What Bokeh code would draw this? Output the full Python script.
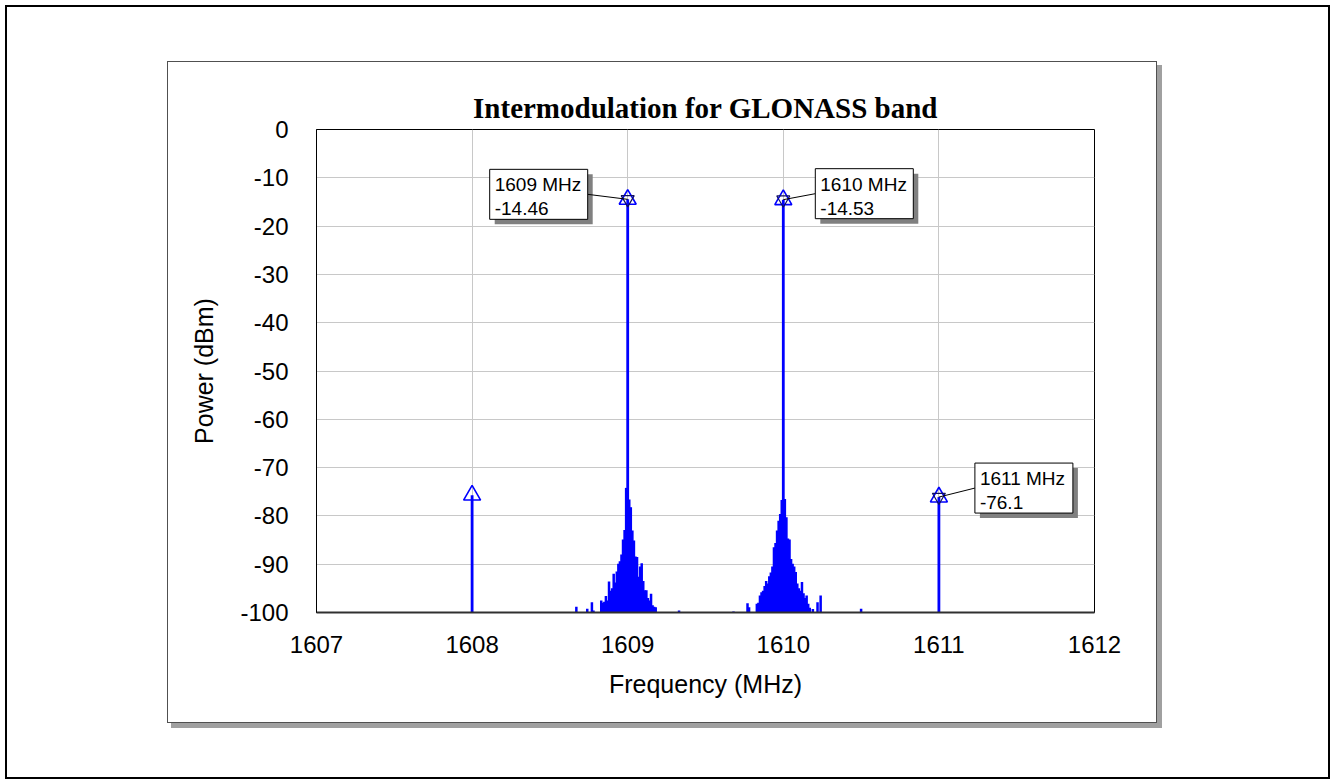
from bokeh.plotting import figure
from bokeh.models import Range1d, FixedTicker, PrintfTickFormatter
from bokeh.core.properties import value
from bokeh.embed import file_html
from bokeh.resources import INLINE

# ---------------- data ----------------
peak_freq = [1608.0, 1609.0, 1610.0, 1611.0]
peak_level = [-75.7, -14.46, -14.53, -76.1]

skirt1_freq = [1608.67, 1608.74, 1608.77, 1608.78, 1608.83, 1608.84, 1608.85, 1608.86,
               1608.87, 1608.88, 1608.89, 1608.90, 1608.91, 1608.92, 1608.93, 1608.94,
               1608.95, 1608.96, 1608.97, 1608.98, 1608.99, 1609.01, 1609.02, 1609.03,
               1609.04, 1609.05, 1609.06, 1609.07, 1609.08, 1609.09, 1609.10, 1609.11,
               1609.12, 1609.13, 1609.14, 1609.15, 1609.16, 1609.17, 1609.18, 1609.33]
skirt1_level = [-98.8, -99.2, -97.9, -99.6, -97.5, -98.0, -97.8, -96.6,
                -97.5, -93.6, -95.5, -95.0, -92.0, -93.8, -91.5, -89.9,
                -89.4, -88.0, -84.9, -82.9, -74.2, -76.6, -78.2, -83.0,
                -85.1, -88.4, -88.5, -92.6, -90.5, -89.8, -93.5, -95.4,
                -95.4, -97.0, -97.5, -96.1, -98.5, -98.8, -98.9, -99.6]

skirt2_freq = [1609.68, 1609.77, 1609.78, 1609.83, 1609.84, 1609.85, 1609.86, 1609.87,
               1609.88, 1609.89, 1609.90, 1609.91, 1609.92, 1609.93, 1609.94, 1609.95,
               1609.96, 1609.97, 1609.98, 1609.99, 1610.01, 1610.02, 1610.03, 1610.04,
               1610.05, 1610.06, 1610.07, 1610.08, 1610.09, 1610.10, 1610.11, 1610.12,
               1610.13, 1610.14, 1610.15, 1610.16, 1610.17, 1610.19, 1610.22, 1610.24,
               1610.32, 1610.50]
skirt2_level = [-99.8, -98.1, -98.9, -98.2, -98.0, -96.5, -95.8, -95.5,
                -94.5, -93.5, -94.0, -92.5, -91.7, -90.5, -86.5, -85.6,
                -83.0, -81.0, -79.6, -76.7, -76.5, -80.3, -84.7, -84.9,
                -88.9, -89.9, -90.5, -91.6, -94.0, -95.0, -95.5, -93.7,
                -96.0, -97.0, -96.5, -98.2, -99.0, -99.3, -97.9, -96.5,
                -99.9, -99.2]

marker_freq = [1609.0, 1610.0, 1611.0]
marker_level = [-14.46, -14.53, -76.1]

x_ticks = [1607, 1608, 1609, 1610, 1611, 1612]
y_ticks = [-100, -90, -80, -70, -60, -50, -40, -30, -20, -10, 0]
noise_floor = -100

title_text = "Intermodulation for GLONASS band"
x_label = "Frequency (MHz)"
y_label = "Power (dBm)"

# ---------------- layout ----------------
W, H = 1332, 783
FRAME_W, FRAME_H = 778, 483
X0, X1 = 1607, 1612
Y0, Y1 = -100, 0
sx = FRAME_W / (X1 - X0)
sy = FRAME_H / (Y1 - Y0)

FONT = "Liberation Sans"
BLUE = "#0000ff"

p = figure(width=W, height=H, frame_width=FRAME_W, frame_height=FRAME_H,
           min_border_left=316, min_border_right=238, min_border_top=129, min_border_bottom=171,
           x_range=Range1d(X0, X1), y_range=Range1d(Y0, Y1),
           output_backend="svg", toolbar_location=None, title=title_text)

p.background_fill_color = "white"
p.border_fill_color = None
p.outline_line_color = "black"
p.outline_line_width = 1

# page frame and chart panel with drop shadow, painted as CSS background layers
layers = [
    ("#ffffff", 168, 62, 988, 660),    # chart panel interior
    ("#505050", 167, 61, 990, 662),    # chart panel border
    ("#a0a0a0", 171, 65, 991, 663),    # chart panel shadow
    ("#ffffff", 7, 7, 1321, 770),      # page interior
    ("#000000", 5, 5, 1325, 774),      # page border
]
p.styles = {
    "background-color": "#ffffff",
    "background-image": ", ".join(f"linear-gradient({c}, {c})" for c, *_ in layers),
    "background-position": ", ".join(f"{x}px {y}px" for _, x, y, _w, _h in layers),
    "background-size": ", ".join(f"{w}px {h}px" for *_, w, h in layers),
    "background-repeat": "no-repeat",
}

p.title.text_font = "Liberation Serif"
p.title.text_font_style = "bold"
p.title.text_font_size = "29px"
p.title.text_color = "black"
p.title.align = "center"
p.title.standoff = 12

# axes
for ax in (p.xaxis[0], p.yaxis[0]):
    ax.major_tick_in = 0
    ax.major_tick_out = 0
    ax.minor_tick_in = 0
    ax.minor_tick_out = 0
    ax.major_label_text_font = FONT
    ax.major_label_text_font_size = "24px"
    ax.major_label_text_color = "black"
    ax.axis_label_text_font = FONT
    ax.axis_label_text_font_size = "25px"
    ax.axis_label_text_font_style = "normal"
    ax.axis_label_text_color = "black"
    ax.formatter = PrintfTickFormatter(format="%d")

p.xaxis.ticker = FixedTicker(ticks=x_ticks)
p.yaxis.ticker = FixedTicker(ticks=y_ticks)
p.xaxis.axis_label = x_label
p.yaxis.axis_label = y_label
p.xaxis.major_label_standoff = 23
p.yaxis.major_label_standoff = 28
p.xaxis.axis_label_standoff = 14
p.yaxis.axis_label_standoff = 19
p.xaxis.axis_line_color = "#303030"
p.xaxis.axis_line_width = 2
p.yaxis.axis_line_color = "black"

p.xgrid.grid_line_color = "#c8c8c8"
p.ygrid.grid_line_color = "#c8c8c8"
p.xgrid.grid_line_width = 1
p.ygrid.grid_line_width = 1

# spectrum skirts
for fr, lv in ((skirt1_freq, skirt1_level), (skirt2_freq, skirt2_level)):
    p.segment(x0=fr, y0=[noise_floor] * len(fr), x1=fr, y1=lv,
              line_color=BLUE, line_width=2.5)

# main tones
p.segment(x0=peak_freq, y0=[noise_floor] * len(peak_freq), x1=peak_freq, y1=peak_level,
          line_color=BLUE, line_width=2.8)

# markers
p.scatter(peak_freq, peak_level, marker="triangle", size=17, fill_alpha=0,
          line_color=BLUE, line_width=1.6)
p.scatter(marker_freq, marker_level, marker="inverted_triangle", size=13, fill_alpha=0,
          line_color="#101060", line_width=1.2)

# marker labels (pixel offsets of the label box relative to the marker)
box_w, box_h = 98, 50
box_dx = [-138, 32, 36]
box_dy = [-30, -31, -34]
shadow = 5

texts = [f"{int(f)} MHz\n{l:g}" for f, l in zip(marker_freq, marker_level)]
cx = [f + (dx + box_w / 2) / sx for f, dx in zip(marker_freq, box_dx)]
cy = [l - (dy + box_h / 2) / sy for l, dy in zip(marker_level, box_dy)]
p.rect(x=[c + shadow / sx for c in cx], y=[c - shadow / sy for c in cy],
       width=box_w, height=box_h, width_units="screen", height_units="screen",
       fill_color="#808080", line_alpha=0)
# leader lines
lx = [f + ((dx + box_w) if dx < 0 else dx) / sx for f, dx in zip(marker_freq, box_dx)]
ly = [l - (dy + box_h / 2) / sy for l, dy in zip(marker_level, box_dy)]
p.segment(x0=marker_freq, y0=marker_level, x1=lx, y1=ly, line_color="black", line_width=1)
p.rect(x=cx, y=cy, width=box_w, height=box_h, width_units="screen", height_units="screen",
       fill_color="white", line_color="black", line_width=1)
tx = [f + (dx + 5) / sx for f, dx in zip(marker_freq, box_dx)]
ty = [l - (dy + 5) / sy for l, dy in zip(marker_level, box_dy)]
p.text(x=tx, y=ty, text=texts, text_font=value(FONT), text_font_size="19px",
       text_align="left", text_baseline="top", text_color="black", text_line_height=1.15)

open("out.html", "w").write(file_html(p, INLINE))
